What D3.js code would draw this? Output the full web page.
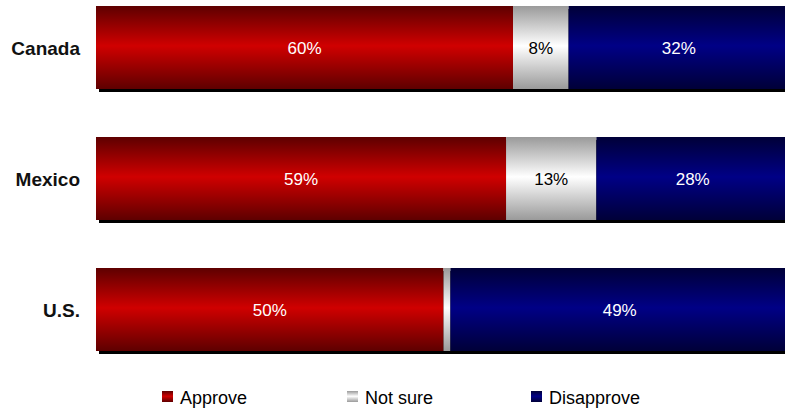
<!DOCTYPE html>
<html><head><meta charset="utf-8">
<script src="https://cdn.jsdelivr.net/npm/d3@7"></script>
<style>body{margin:0;background:#fff}svg{display:block}</style>
</head><body>
<script>
const countries = ["Canada", "Mexico", "U.S."];
const seriesNames = ["Approve", "Not sure", "Disapprove"];
const approve = [60, 59, 50];
const notSure = [8, 13, 1];
const disapprove = [32, 28, 49];
const showLabel = [[true, true, true], [true, true, true], [true, false, true]];

const W = 785, H = 411;
const svg = d3.select("body").append("svg").attr("width", W).attr("height", H);
const defs = svg.append("defs");
const grads = [
  {id: "gRed", dark: "#5e0000", light: "#d00000"},
  {id: "gGray", dark: "#9a9a9a", light: "#ffffff"},
  {id: "gBlue", dark: "#000038", light: "#000086"}
];
grads.forEach(g => {
  const lg = defs.append("linearGradient").attr("id", g.id).attr("x1", 0).attr("y1", 0).attr("x2", 0).attr("y2", 1);
  lg.append("stop").attr("offset", "0%").attr("stop-color", g.dark);
  lg.append("stop").attr("offset", "48%").attr("stop-color", g.light);
  lg.append("stop").attr("offset", "100%").attr("stop-color", g.dark);
});

const x = d3.scaleLinear().domain([0, 100]).range([96, 791]);
const y = d3.scaleBand().domain(countries).range([6, 351]).paddingInner(48 / 131).paddingOuter(0);

const data = countries.map((c, i) => ({country: c, vals: [approve[i], notSure[i], disapprove[i]]}));
const stack = d3.stack().keys([0, 1, 2]).value((d, k) => d.vals[k]);
const series = stack(data);

// shadows
svg.append("g").selectAll("rect").data(data).join("rect")
  .attr("x", x(0) + 3).attr("y", d => y(d.country) + 3)
  .attr("width", x(100) - x(0)).attr("height", y.bandwidth())
  .attr("fill", "#000");

const fills = ["url(#gRed)", "url(#gGray)", "url(#gBlue)"];
const textFill = ["#fff", "#000", "#fff"];
series.forEach((s, k) => {
  const g = svg.append("g");
  g.selectAll("rect").data(s).join("rect")
    .attr("x", d => x(d[0])).attr("y", d => y(d.data.country))
    .attr("width", d => x(d[1]) - x(d[0])).attr("height", y.bandwidth())
    .attr("fill", fills[k]);
  g.selectAll("text").data(s.filter((d, i) => showLabel[i][k])).join("text")
    .attr("x", d => (x(d[0]) + Math.min(x(d[1]), W)) / 2 + (k === 2 ? 2 : 0))
    .attr("y", d => y(d.data.country) + y.bandwidth() / 2 + 1)
    .attr("text-anchor", "middle").attr("dominant-baseline", "central")
    .attr("font-family", "Liberation Sans, Arial, sans-serif").attr("font-size", 17)
    .attr("fill", textFill[k])
    .text(d => d.data.vals[k] + "%");
});

// category labels
svg.append("g").selectAll("text").data(countries).join("text")
  .attr("x", 80).attr("y", d => y(d) + y.bandwidth() / 2 + 1)
  .attr("text-anchor", "end").attr("dominant-baseline", "central")
  .attr("font-family", "Liberation Sans, Arial, sans-serif").attr("font-weight", "bold")
  .attr("font-size", 19).attr("fill", "#111")
  .text(d => d);

// legend
const lx = [162, 347, 531];
const leg = svg.append("g").selectAll("g").data(seriesNames).join("g")
  .attr("transform", (d, i) => `translate(${lx[i]},391)`);
leg.append("rect").attr("width", 11).attr("height", 11).attr("fill", (d, i) => fills[i]);
leg.append("text").attr("x", 18).attr("y", 13)
  .attr("font-family", "Liberation Sans, Arial, sans-serif").attr("font-size", 18)
  .attr("fill", "#000").text(d => d);
</script>
</body></html>
